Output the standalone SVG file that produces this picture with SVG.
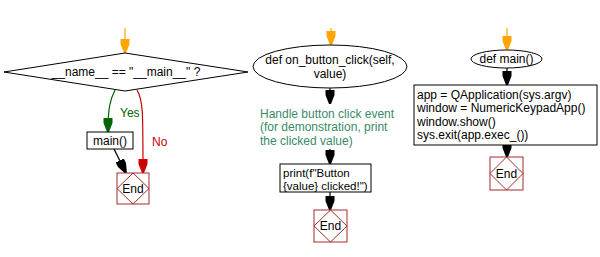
<svg xmlns="http://www.w3.org/2000/svg" width="600" height="257" viewBox="0 0 600 257">
<style>
text{font-family:"Liberation Sans",Arial,sans-serif;font-size:12px;fill:#000}
.shape{fill:#fff;stroke:#000;stroke-width:1}
.endbox{fill:#fff;stroke:#a52a2a;stroke-width:1}
.enddia{fill:none;stroke:#a52a2a;stroke-width:1}
.c{fill:none;stroke-width:1.2}
.k{stroke:#000;marker-end:url(#ak)}
.o{stroke:#ffa500;marker-end:url(#ao)}
.g{stroke:#006400;marker-end:url(#ag)}
.r{stroke:#cc0000;marker-end:url(#ar)}
.note{fill:#3a8a68}
.small{font-size:11.5px}
</style>
<defs>
<marker id="ak" viewBox="0 0 14 10" refX="14" refY="5" markerWidth="14" markerHeight="10" markerUnits="userSpaceOnUse" orient="auto"><path d="M0,0.5 L5,0.5 L14,4 L14,6 L5,9.5 L0,9.5 Z" fill="#000"/></marker>
<marker id="ao" viewBox="0 0 14 10" refX="14" refY="5" markerWidth="14" markerHeight="10" markerUnits="userSpaceOnUse" orient="auto"><path d="M0,0.5 L5,0.5 L14,4 L14,6 L5,9.5 L0,9.5 Z" fill="#ffa500"/></marker>
<marker id="ag" viewBox="0 0 14 10" refX="14" refY="5" markerWidth="14" markerHeight="10" markerUnits="userSpaceOnUse" orient="auto"><path d="M0,0.5 L5,0.5 L14,4 L14,6 L5,9.5 L0,9.5 Z" fill="#006400"/></marker>
<marker id="ar" viewBox="0 0 14 10" refX="14" refY="5" markerWidth="14" markerHeight="10" markerUnits="userSpaceOnUse" orient="auto"><path d="M0,0.5 L5,0.5 L14,4 L14,6 L5,9.5 L0,9.5 Z" fill="#cc0000"/></marker>
</defs>

<g id="connectors">
<path class="c o" d="M125,28 V53"/>
<path class="c g" d="M115,90 C110,100 108,108 108,132"/>
<path class="c r" d="M137,90 C143,100 143,110 143,173"/>
<path class="c k" d="M114,149 L126,173"/>
<path class="c o" d="M331,28 V45"/>
<path class="c k" d="M330,88 V104"/>
<path class="c k" d="M330,149 V164"/>
<path class="c k" d="M330,192 V210"/>
<path class="c o" d="M507,28 V50"/>
<path class="c k" d="M507,68 V85"/>
<path class="c k" d="M507,145 V157"/>
<text x="120" y="117" style="fill:#006400">Yes</text>
<text x="152" y="146" style="fill:#cc0000">No</text>
</g>

<g id="decision">
<polygon class="shape" points="4,72 125,53 248,72 125,91"/>
<text x="126" y="76" text-anchor="middle">__name__ == "__main__" ?</text>
</g>

<g id="main_call">
<rect class="shape" x="87" y="132" width="46" height="17"/>
<text x="110" y="145" text-anchor="middle">main()</text>
</g>

<g id="end1">
<rect class="endbox" x="117" y="173" width="32" height="31"/>
<polygon class="enddia" points="133,173 149,188.5 133,204 117,188.5"/>
<text x="133" y="193" text-anchor="middle">End</text>
</g>

<g id="def_click">
<ellipse class="shape" cx="330" cy="66.5" rx="77" ry="21.5"/>
<text x="330" y="64" text-anchor="middle">def on_button_click(self,</text>
<text x="330" y="78" text-anchor="middle">value)</text>
</g>

<g id="comment">
<text class="note" x="260" y="118">Handle button click event</text>
<text class="note" x="260" y="131">(for demonstration, print</text>
<text class="note" x="260" y="145">the clicked value)</text>
</g>

<g id="print_box">
<rect class="shape" x="280" y="164" width="91" height="28"/>
<text class="small" x="283" y="177">print(f"Button</text>
<text class="small" x="283" y="190">{value} clicked!")</text>
</g>

<g id="end2">
<rect class="endbox" x="314" y="210" width="33" height="32"/>
<polygon class="enddia" points="330.5,210 347,226 330.5,242 314,226"/>
<text x="330.5" y="230" text-anchor="middle">End</text>
</g>

<g id="def_main">
<ellipse class="shape" cx="506.5" cy="59" rx="35.5" ry="9"/>
<text x="506.5" y="63" text-anchor="middle">def main()</text>
</g>

<g id="main_body">
<rect class="shape" x="414" y="85" width="183" height="60"/>
<text x="417" y="99">app = QApplication(sys.argv)</text>
<text x="417" y="112">window = NumericKeypadApp()</text>
<text x="417" y="126">window.show()</text>
<text x="417" y="139">sys.exit(app.exec_())</text>
</g>

<g id="end3">
<rect class="endbox" x="490" y="157" width="33" height="33"/>
<polygon class="enddia" points="506.5,157 523,173.5 506.5,190 490,173.5"/>
<text x="506.5" y="178" text-anchor="middle">End</text>
</g>
</svg>
